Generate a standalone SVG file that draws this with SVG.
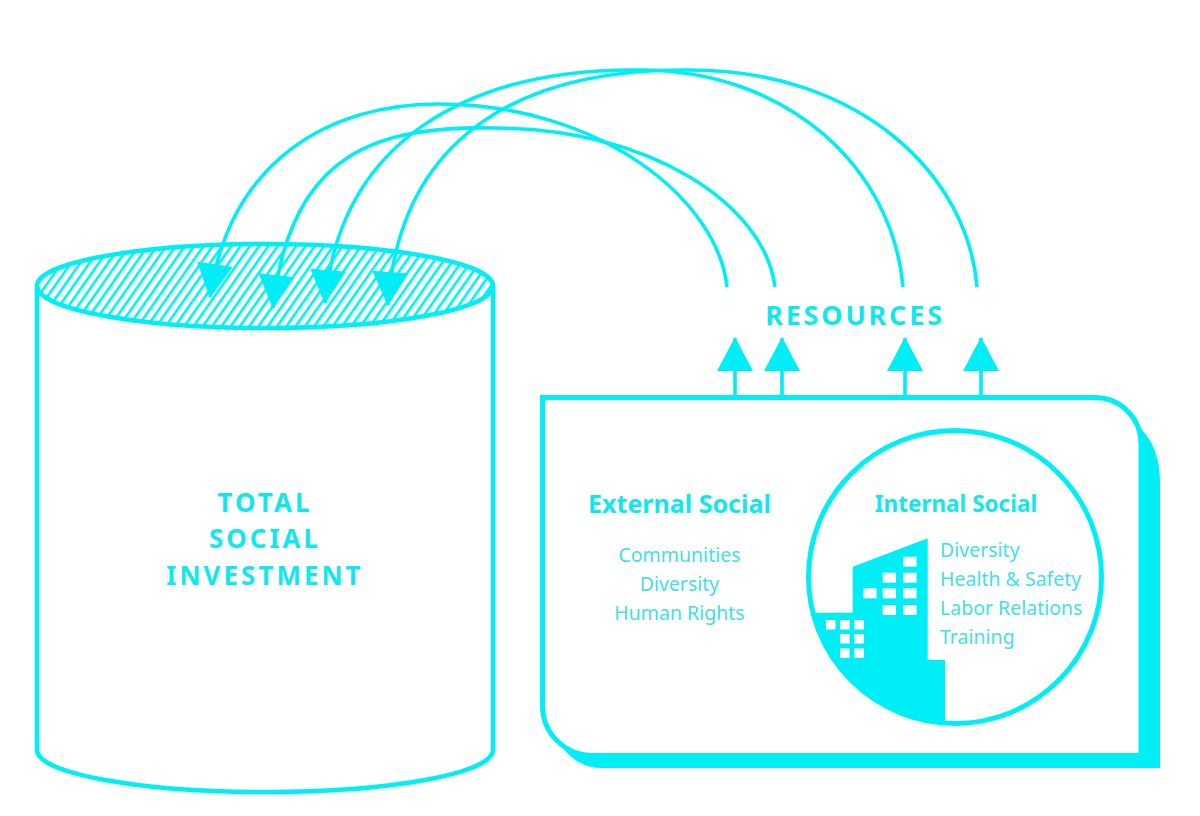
<svg xmlns="http://www.w3.org/2000/svg" width="1200" height="816" viewBox="0 0 1200 816">
  <style>
    .ln { fill: none; stroke: #00EEF5; }
    .head { font-family: "Noto Sans", "Open Sans", sans-serif; font-weight: 700; fill: #12E6EE; }
    .body { font-family: "Noto Sans", "Open Sans", sans-serif; font-weight: 400; fill: #45DEE6; font-size: 19.5px; }
    .win { fill: #FFFFFF; }
  </style>
  <defs>
    <pattern id="hatch" patternUnits="userSpaceOnUse" width="7.6" height="10" patternTransform="rotate(35)">
      <line x1="3.8" y1="-1" x2="3.8" y2="11" stroke="#00EEF5" stroke-width="2.7"/>
    </pattern>
    <marker id="tri" markerUnits="userSpaceOnUse" viewBox="0 -18 34 36" markerWidth="34" markerHeight="36" refX="33" refY="0" orient="auto">
      <path d="M0,-18 L34,0 L0,18 Z" fill="#00EEF5"/>
    </marker>
    <clipPath id="circClip">
      <circle cx="955" cy="577" r="146"/>
    </clipPath>
  </defs>
  <rect width="1200" height="816" fill="#FFFFFF"/>

  <g id="cylinder">
    <path class="ln" stroke-width="4.5" d="M37,286 V750 A228,42 0 0 0 493,750 V286"/>
    <ellipse cx="265" cy="286" rx="228" ry="42" fill="url(#hatch)" stroke="#00EEF5" stroke-width="4.5"/>
    <g class="head" font-size="26" letter-spacing="3" text-anchor="middle">
      <text x="265" y="512">TOTAL</text>
      <text x="265" y="548">SOCIAL</text>
      <text x="265" y="585">INVESTMENT</text>
    </g>
  </g>

  <g id="resources-label">
    <text class="head" x="855" y="325" font-size="27" letter-spacing="2.8" text-anchor="middle">RESOURCES</text>
  </g>

  <g id="social-box">
    <path d="M1126,418 Q1160,436 1160,482 V768 H602 Q576,768 560,744 L900,600 Z" fill="#00EEF5"/>
    <path d="M542.5,397.5 H1095 A46,46 0 0 1 1141,443.5 V755.5 H592.5 A50,50 0 0 1 542.5,705.5 Z" fill="#FFFFFF" stroke="#00EEF5" stroke-width="5"/>
  </g>

  <g id="external-social">
    <text class="head" x="679.5" y="513" font-size="25" text-anchor="middle">External Social</text>
    <g class="body" text-anchor="middle">
      <text x="679.5" y="561.5">Communities</text>
      <text x="679.5" y="590.5">Diversity</text>
      <text x="679.5" y="619.5">Human Rights</text>
    </g>
  </g>

  <g id="internal-social">
    <g clip-path="url(#circClip)">
      <path d="M800,612.7 H852.7 V566.7 L927.7,538.3 V660 H945 V740 H800 Z" fill="#00EEF5"/>
      <rect class="win" x="903.3" y="556.7" width="13.3" height="10"/>
      <rect class="win" x="882.7" y="572.7" width="13.3" height="10"/>
      <rect class="win" x="903.3" y="572.7" width="13.3" height="10"/>
      <rect class="win" x="863.3" y="588.3" width="13.3" height="10"/>
      <rect class="win" x="882.7" y="588.3" width="13.3" height="10"/>
      <rect class="win" x="903.3" y="588.3" width="13.3" height="10"/>
      <rect class="win" x="882.7" y="605" width="13.3" height="10"/>
      <rect class="win" x="903.3" y="605" width="13.3" height="10"/>
      <rect class="win" x="826" y="620" width="9.5" height="9.5"/>
      <rect class="win" x="840" y="620" width="9.5" height="9.5"/>
      <rect class="win" x="854.3" y="620" width="9.5" height="9.5"/>
      <rect class="win" x="840" y="634" width="9.5" height="9.5"/>
      <rect class="win" x="854.3" y="634" width="9.5" height="9.5"/>
      <rect class="win" x="840" y="648.3" width="9.5" height="9.5"/>
      <rect class="win" x="854.3" y="648.3" width="9.5" height="9.5"/>
    </g>
    <circle class="ln" cx="955" cy="577" r="146.5" stroke-width="5"/>
    <text class="head" x="956" y="511.5" font-size="22.5" text-anchor="middle">Internal Social</text>
    <g class="body">
      <text x="940" y="557">Diversity</text>
      <text x="940" y="586">Health &amp; Safety</text>
      <text x="940" y="615">Labor Relations</text>
      <text x="940" y="644">Training</text>
    </g>
  </g>

  <g id="connectors" class="ln" stroke-width="3.6" marker-end="url(#tri)">
    <path d="M727,287 C718,200 600,104 438,104 C330,104 230,160 210,297"/>
    <path d="M775,287 C765,205 650,128 494,128 C380,126 290,150 273,308"/>
    <path d="M903,287 C893,170 790,70 640,70 C470,68 340,140 325,303"/>
    <path d="M977,287 C968,175 860,70 690,70 C530,68 400,130 388,305"/>
    <path d="M735,397.5 V338"/>
    <path d="M782,397.5 V338"/>
    <path d="M905,397.5 V338"/>
    <path d="M981,397.5 V338"/>
  </g>
</svg>
